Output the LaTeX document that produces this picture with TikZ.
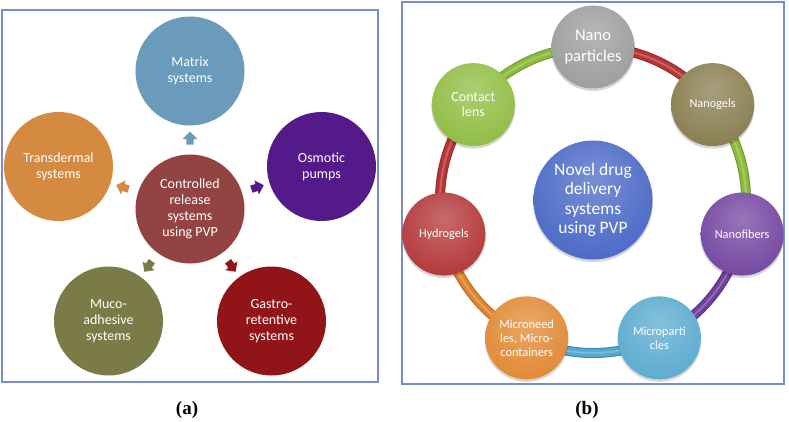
\documentclass[tikz,border=0pt]{standalone}
\usepackage{fontspec}
\setmainfont{Carlito}
\newfontfamily\labfont{Liberation Serif}
\usetikzlibrary{shapes.arrows,calc}
\pgfdeclarelayer{back}
\pgfdeclarelayer{bg}
\pgfdeclarelayer{shad}
\pgfsetlayers{back,bg,shad,main}
\colorlet{bevelcol}{gray}
\pgfdeclareradialshading[bevelcol]{bevel}{\pgfqpoint{0bp}{10bp}}{%
 color(0bp)=(bevelcol!72!white);
 color(18bp)=(bevelcol!86!white);
 color(36bp)=(bevelcol);
 color(50bp)=(bevelcol!78!black);
 color(60bp)=(bevelcol!58!black)}
\definecolor{matc}{HTML}{6A9BBB}
\definecolor{trac}{HTML}{D58A42}
\definecolor{osmc}{HTML}{541A8A}
\definecolor{cenc}{HTML}{944343}
\definecolor{mucc}{HTML}{7B7B47}
\definecolor{gasc}{HTML}{911418}
\definecolor{npc}{HTML}{9A9A9A}
\definecolor{clc}{HTML}{8CBB3C}
\definecolor{ngc}{HTML}{85794A}
\definecolor{hgc}{HTML}{B13132}
\definecolor{nfc}{HTML}{70409E}
\definecolor{mpc}{HTML}{55A8CE}
\definecolor{mnc}{HTML}{E0852C}
\definecolor{nvc}{HTML}{4464C4}
\definecolor{arcred}{HTML}{B83536}
\definecolor{framec}{HTML}{7A8CC8}
\tikzset{
 bevel color/.code={\colorlet{bevelcol}{#1}},
 bn/.style={circle, inner sep=0pt, minimum size=83pt, shade, shading=bevel, bevel color=#1, text=white, align=center},
 fn/.style={circle, inner sep=0pt, minimum size=109pt, fill=#1, text=white, align=center, font=\fontsize{14}{16}\selectfont},
 tube/.style={line width=10pt, draw=#1!78!black, postaction={draw=#1, line width=8pt}, postaction={draw=#1!78!white, line width=2pt}},
 blk/.style={single arrow, fill=#1, draw=none, inner sep=0pt, text height=7pt, text depth=0pt, text width=0pt, minimum height=13pt, single arrow head extend=3.7pt, sloped, allow upside down},
 frame/.style={draw=framec, line width=1.3pt},
 lab/.style={font=\labfont\bfseries\fontsize{19}{22}\selectfont},
 shd/.style={fill=black, opacity=0.16}
}
\begin{document}
\begin{tikzpicture}[x=1pt,y=1pt]
\begin{pgfonlayer}{back}
\fill[white] (0,0) rectangle (789,421);
\end{pgfonlayer}
\useasboundingbox (0,0) rectangle (789,421);
% ---------- panel (a)
\draw[frame] (2,39) rectangle (378,411);
\node[fn=matc] (mat) at (190,350) {Matrix\\systems};
\node[fn=trac] (tra) at (58.5,254.5) {Transdermal\\systems};
\node[fn=osmc] (osm) at (321.5,254.5) {Osmotic\\pumps};
\node[fn=cenc] (cen) at (190,212) {Controlled\\release\\systems\\using PVP};
\node[fn=mucc] (muc) at (108.5,100) {Muco-\\adhesive\\systems};
\node[fn=gasc] (gas) at (271.5,100) {Gastro-\\retentive\\systems};
\path (cen) -- node[blk=matc] {} (mat);
\path (cen) -- node[blk=trac] {} (tra);
\path (cen) -- node[blk=osmc] {} (osm);
\path (cen) -- node[blk=mucc] {} (muc);
\path (cen) -- node[blk=gasc] {} (gas);
\node[lab] (la) at (187,11) {(a)};
% ---------- panel (b)
\draw[frame] (402,37) rectangle (784,419);
\coordinate (ring) at (593,221);
\node[bn=nvc, minimum size=119pt, font=\fontsize{17.5}{19.5}\selectfont] (nov) at (ring) {Novel drug\\delivery\\systems\\using PVP};
\node[bn=npc, font=\fontsize{16.5}{21}\selectfont] (np) at ([shift={(90:153pt)}]ring) {Nano\\particles};
\node[bn=clc, font=\fontsize{14}{15}\selectfont] (cl) at ([shift={(141.43:153pt)}]ring) {Contact\\lens};
\node[bn=hgc, font=\fontsize{12.3}{14}\selectfont] (hg) at ([shift={(192.86:153pt)}]ring) {Hydrogels};
\node[bn=mnc, font=\fontsize{12.4}{14}\selectfont] (mn) at ([shift={(244.29:153pt)}]ring) {Microneed\\les, Micro-\\containers};
\node[bn=mpc, font=\fontsize{12.3}{14}\selectfont] (mp) at ([shift={(295.71:153pt)}]ring) {Microparti\\cles};
\node[bn=nfc, font=\fontsize{12.3}{14}\selectfont] (nf) at ([shift={(347.14:153pt)}]ring) {Nanofibers};
\node[bn=ngc, font=\fontsize{12.3}{14}\selectfont] (ng) at ([shift={(38.57:153pt)}]ring) {Nanogels};
\begin{pgfonlayer}{shad}
\foreach \n in {np,cl,hg,mn,mp,nf,ng}
  \fill[shd] ([yshift=-2pt]\n.center) circle (42pt);
\fill[shd] ([yshift=-2pt]nov.center) circle (60pt);
\end{pgfonlayer}
\begin{pgfonlayer}{bg}
\draw[tube=arcred] (np.center) to[bend left=25.7, looseness=0.9] (ng.center);
\draw[tube=clc] (ng.center) to[bend left=25.7, looseness=0.9] (nf.center);
\draw[tube=nfc] (nf.center) to[bend left=25.7, looseness=0.9] (mp.center);
\draw[tube=mpc] (mp.center) to[bend left=25.7, looseness=0.9] (mn.center);
\draw[tube=mnc] (mn.center) to[bend left=25.7, looseness=0.9] (hg.center);
\draw[tube=arcred] (hg.center) to[bend left=25.7, looseness=0.9] (cl.center);
\draw[tube=clc] (cl.center) to[bend left=25.7, looseness=0.9] (np.center);
\end{pgfonlayer}
\node[lab] (lb) at (587,11) {(b)};
\end{tikzpicture}
\end{document}
